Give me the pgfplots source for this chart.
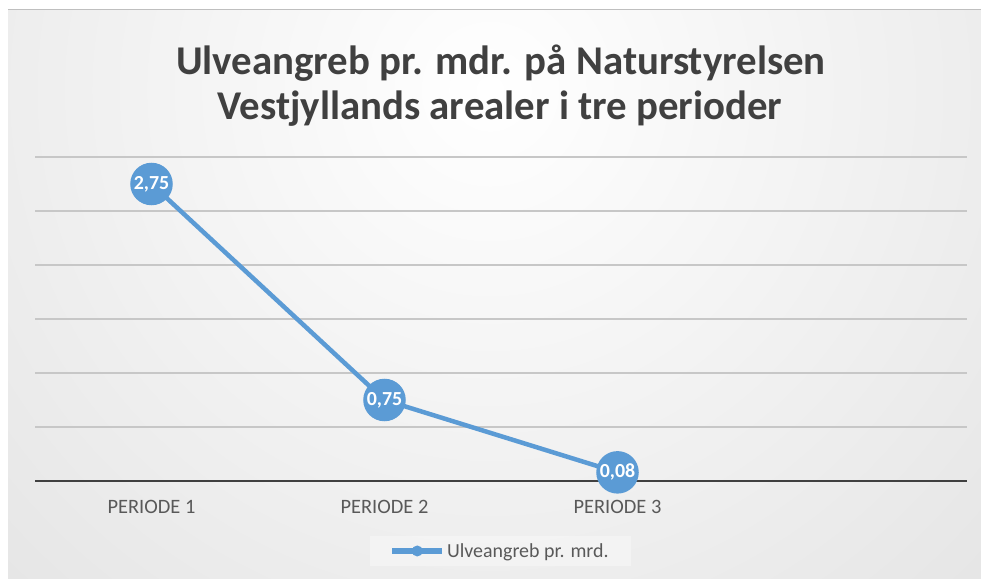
\documentclass[border=0pt]{standalone}
\usepackage{pgfplots}
\pgfplotsset{compat=1.18}
\usepackage{fontspec}
\setmainfont{Carlito}
\definecolor{ser}{HTML}{5B9BD5}
\definecolor{titlec}{HTML}{404040}
\definecolor{labc}{HTML}{595959}
\pgfdeclareradialshading{bgshade}{\pgfpoint{0bp}{0bp}}{color(0bp)=(white); color(50bp)=(black!20)}
\begin{document}
\begin{tikzpicture}
\path[use as bounding box] (0bp,0bp) rectangle (981bp,579bp);
\fill[white] (0bp,0bp) rectangle (981bp,579bp);
\begin{scope}
\clip (8bp,0bp) rectangle (981bp,569bp);
\shade[shading=bgshade, overlay] (490bp,489bp) circle (700bp);
\end{scope}
\draw[black!25, line width=1.5bp] (8bp,569.3bp) -- (981bp,569.3bp);
\node[anchor=base, font=\bfseries\fontsize{41}{48}\selectfont, text=titlec, inner sep=0pt] at (501bp,504bp) {Ulveangreb pr. mdr. på Naturstyrelsen};
\node[anchor=base, font=\bfseries\fontsize{41}{48}\selectfont, text=titlec, inner sep=0pt] at (500bp,459bp) {Vestjyllands arealer i tre perioder};
\begin{axis}[
  at={(35bp,98bp)}, anchor=south west,
  scale only axis, width=932bp, height=324bp,
  xmin=-0.5, xmax=3.5, ymin=0, ymax=3,
  axis line style={draw=none},
  tick style={draw=none},
  ytick={0.5,1,...,3}, yticklabels={},
  ymajorgrids, grid style={color=black!22, line width=1.5bp},
  extra y ticks={0}, extra y tick labels={},
  extra y tick style={grid style={draw=titlec, line width=2.5bp}},
  xtick={0,1,2}, xticklabels={PERIODE 1, PERIODE 2, PERIODE 3},
  x tick label style={anchor=base, yshift=-32bp, font=\fontsize{20.5}{24}\selectfont, text=labc},
  clip=false,
  nodes near coords={\pgfmathprintnumber[assume math mode=true, use comma, fixed, fixed zerofill, precision=2]{\pgfplotspointmeta}},
  every node near coord/.append style={anchor=center, font=\bfseries\fontsize{20}{24}\selectfont, text=white},
  legend image code/.code={\path[draw=ser, line width=5.5bp, draw opacity=1] (0bp,0bp) -- (50bp,0bp); \path[fill=ser, draw=none, fill opacity=1] (25bp,0bp) circle (5.5bp);},
  legend style={at={(0.499,-0.216)}, anchor=center, draw=none, fill=white, fill opacity=0.35, text opacity=1,
    font=\fontsize{20}{24}\selectfont, text=labc, inner xsep=20bp, inner ysep=5bp,
    /tikz/every even column/.append style={column sep=3bp}},
]
\addplot[ser, line width=4.5bp, mark=*, mark size=19bp, mark options={fill=ser, draw=none}] coordinates {(0,2.75) (1,0.75) (2,0.08)};
\addlegendentry{Ulveangreb pr. mrd.}
\end{axis}
\end{tikzpicture}
\end{document}
